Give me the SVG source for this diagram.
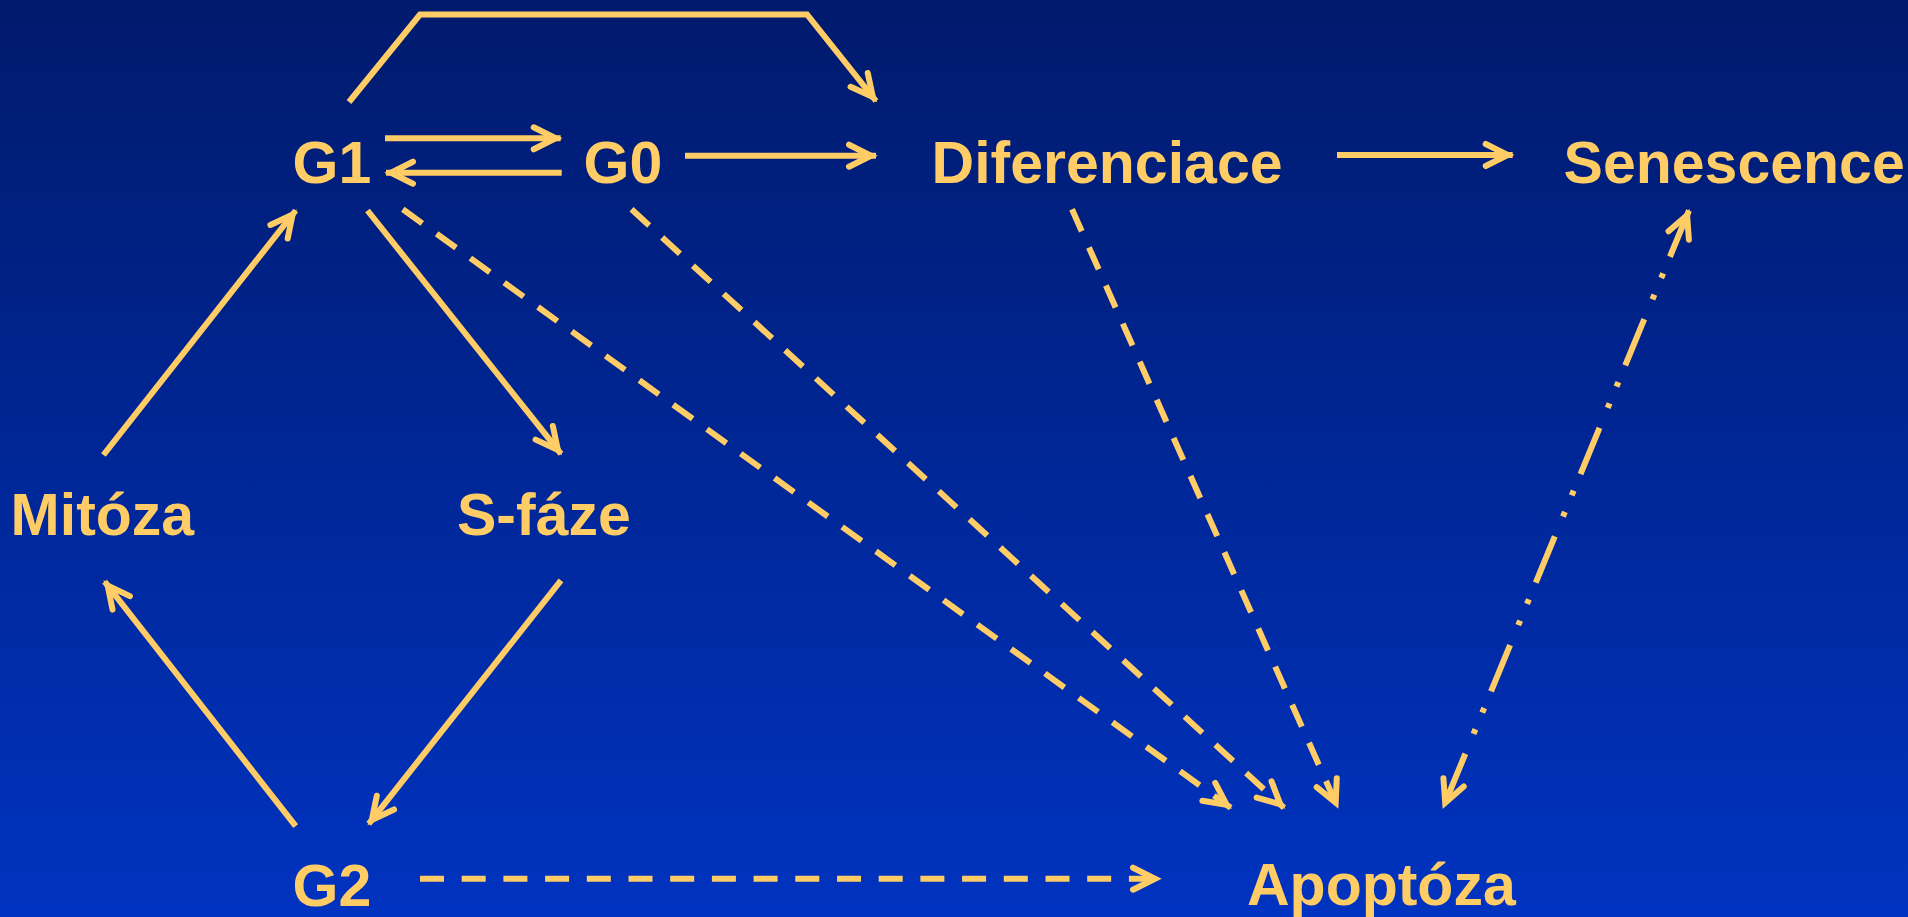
<svg xmlns="http://www.w3.org/2000/svg" width="1908" height="917" viewBox="0 0 1908 917">
<defs>
<linearGradient id="bg" x1="0" y1="0" x2="0" y2="1">
<stop offset="0" stop-color="#001a6c"/>
<stop offset="1" stop-color="#0033c0"/>
</linearGradient>
<marker id="ah" markerUnits="userSpaceOnUse" markerWidth="60" markerHeight="60" viewBox="-30 -30 60 60" refX="5" refY="0" orient="auto-start-reverse" overflow="visible">
<path d="M-22,-11 L0,0 L-22,11" fill="none" stroke="#FFCC66" stroke-width="6" stroke-linecap="round" stroke-linejoin="miter"/>
</marker>
<style>
.lbl{font-family:"Liberation Sans",Arial,sans-serif;font-weight:bold;font-size:59px;fill:#FFCC66}
.c{fill:none;stroke:#FFCC66;stroke-width:6}
.a{marker-end:url(#ah)}
.d{stroke-dasharray:24 17.7}
.dd{stroke-dasharray:50 18 5 18 5 21.5}
</style>
</defs>
<rect x="0" y="0" width="1908" height="917" fill="url(#bg)"/>
<g id="connectors">
<line class="c a" x1="385" y1="138.3" x2="560.7" y2="138.3"/>
<line class="c a" x1="561.7" y1="172.7" x2="386" y2="172.7"/>
<line class="c a" x1="685" y1="155.7" x2="876" y2="155.7"/>
<line class="c a" x1="1337" y1="155" x2="1512.7" y2="155"/>
<polyline class="c a" points="349,102 420,14.5 807,14.5 876,101"/>
<line class="c a" x1="367.5" y1="210.5" x2="561" y2="453.9"/>
<line class="c a" x1="103.4" y1="455" x2="295.7" y2="210.5"/>
<line class="c a" x1="561" y1="580.4" x2="368.7" y2="823.8"/>
<line class="c a" x1="295.7" y1="826.2" x2="104.6" y2="581.6"/>
<line class="c a d" x1="420" y1="878.7" x2="1160" y2="878.7"/>
<line class="c a d" x1="402.8" y1="209.3" x2="1230.7" y2="807.7"/>
<line class="c a d" x1="631.5" y1="209.3" x2="1284" y2="807.7"/>
<line class="c a d" x1="1072" y1="209.3" x2="1337.7" y2="807.3"/>
<line class="c a dd" x1="1689" y1="210.5" x2="1443.3" y2="807.3" marker-start="url(#ah)"/>
</g>
<g id="G1"><text class="lbl" x="292.5" y="183">G1</text></g>
<g id="G0"><text class="lbl" x="583.5" y="183">G0</text></g>
<g id="Diferenciace"><text class="lbl" x="931.6" y="183">Diferenciace</text></g>
<g id="Senescence"><text class="lbl" x="1563.6" y="183">Senescence</text></g>
<g id="Mitoza"><text class="lbl" x="10.6" y="535">Mitóza</text></g>
<g id="Sfaze"><text class="lbl" x="457" y="535">S-fáze</text></g>
<g id="G2"><text class="lbl" x="292.5" y="906">G2</text></g>
<g id="Apoptoza"><text class="lbl" x="1247" y="905">Apoptóza</text></g>
</svg>
